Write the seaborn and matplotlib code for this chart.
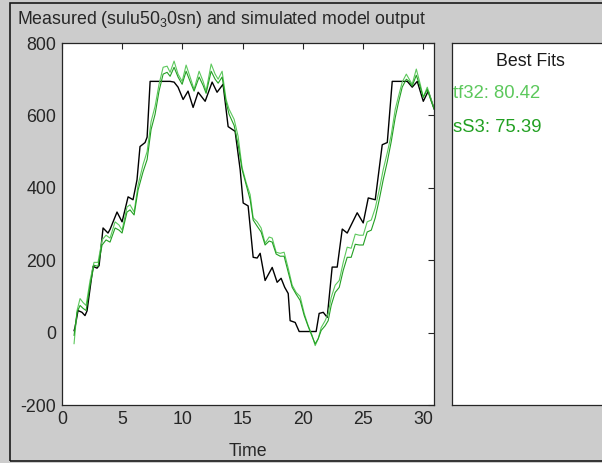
import numpy as np
import pandas as pd
import matplotlib
matplotlib.use("Agg")
import matplotlib.pyplot as plt
import seaborn as sns
from matplotlib.patches import Rectangle

# Measured output (staircase response)
meas_t = [1.00, 1.08, 1.33, 1.66, 1.91, 2.08, 2.58, 2.91, 3.08, 3.41, 3.82, 3.99,
          4.57, 4.99, 5.49, 5.90, 6.23, 6.48, 6.90, 7.07, 7.32, 8.98, 9.31, 9.64,
          10.06, 10.47, 10.89, 11.31, 11.89, 12.47, 12.88, 13.38, 13.80, 14.38,
          14.80, 15.05, 15.46, 15.88, 16.21, 16.46, 16.87, 17.46, 17.87, 18.20,
          18.50, 18.79, 18.95, 19.37, 19.70, 21.11, 21.36, 21.70, 22.03, 22.44,
          22.86, 23.28, 23.69, 24.52, 25.02, 25.44, 26.02, 26.60, 27.02, 27.43,
          28.68, 29.09, 29.51, 30.01, 30.42, 30.92]
meas_y = [5, 14, 61, 56, 47, 60, 183, 178, 185, 289, 275, 285,
          333, 306, 375, 367, 422, 514, 525, 540, 694, 694, 692, 678,
          644, 667, 622, 664, 639, 692, 664, 686, 569, 556,
          450, 358, 350, 208, 206, 219, 144, 180, 139, 150,
          125, 108, 33, 28, 3, 3, 53, 56, 42, 181,
          181, 286, 275, 331, 303, 372, 367, 519, 525, 694,
          694, 678, 694, 639, 667, 617]

# Simulated model outputs
model_t = [1.00, 1.25, 1.50, 1.75, 2.00, 2.33, 2.66, 2.99, 3.33, 3.66, 3.99, 4.41,
           4.74, 4.99, 5.40, 5.65, 5.99, 6.32, 6.73, 7.07, 7.40, 7.73, 8.06, 8.40,
           8.73, 8.98, 9.31, 9.64, 9.98, 10.31, 10.64, 10.97, 11.39, 11.72, 11.97,
           12.39, 12.72, 12.97, 13.30, 13.63, 13.88, 14.30, 14.63, 14.96, 15.30,
           15.63, 15.88, 16.21, 16.54, 16.87, 17.21, 17.46, 17.79, 18.12, 18.45,
           18.79, 19.12, 19.45, 19.78, 20.12, 20.45, 20.78, 21.03, 21.28, 21.53,
           21.86, 22.11, 22.36, 22.69, 23.03, 23.36, 23.69, 24.02, 24.36, 24.69,
           25.02, 25.35, 25.69, 26.02, 26.35, 26.68, 27.02, 27.35, 27.68, 27.93,
           28.26, 28.60, 28.84, 29.09, 29.43, 29.76, 30.01, 30.34, 30.67, 30.92]
tf32_y = [-31, 61, 94, 83, 75, 144, 194, 194, 256, 269, 261, 306,
          297, 283, 347, 353, 333, 408, 464, 500, 583, 625, 686, 733,
          736, 719, 750, 714, 694, 739, 706, 672, 722, 694, 667,
          742, 714, 700, 722, 644, 617, 589, 542, 456, 414,
          381, 317, 306, 289, 247, 264, 261, 222, 219, 222,
          178, 131, 111, 100, 53, 19, -8, -36, -17, 14,
          33, 53, 97, 131, 144, 194, 236, 233, 272, 269,
          269, 306, 311, 344, 394, 450, 497, 547, 617, 650,
          692, 714, 700, 686, 728, 686, 650, 678, 644, 617]
ss3_y = [-8, 56, 75, 67, 61, 131, 186, 183, 242, 256, 250, 289,
         283, 275, 333, 339, 325, 394, 444, 478, 561, 603, 667, 714,
         719, 708, 733, 706, 686, 722, 694, 667, 706, 683, 661,
         722, 700, 689, 706, 636, 603, 572, 519, 450, 408,
         367, 311, 294, 278, 242, 253, 250, 217, 211, 211,
         167, 125, 106, 89, 47, 17, -11, -31, -17, 6,
         19, 33, 75, 111, 125, 172, 208, 208, 244, 242,
         242, 278, 283, 317, 367, 422, 472, 528, 594, 633,
         678, 700, 694, 681, 711, 678, 650, 672, 639, 617]

fit_names = ["tf32", "sS3"]
fit_values = [80.42, 75.39]
fit_colors = ["#5cc85c", "#22a022"]

x_ticks = [0, 5, 10, 15, 20, 25, 30]
y_ticks = [-200, 0, 200, 400, 600, 800]

sns.set_theme(style="white")
plt.rcParams["font.family"] = ["Liberation Sans", "DejaVu Sans"]
plt.rcParams["mathtext.fontset"] = "custom"
plt.rcParams["mathtext.rm"] = "Liberation Sans"
plt.rcParams["mathtext.it"] = "Liberation Sans"
plt.rcParams["axes.unicode_minus"] = False

ink = "#262626"
fs = 12.8
fig = plt.figure(figsize=(6.02, 4.63), dpi=100, facecolor="#cccccc")

# outer panel frame
fig.patches.append(Rectangle((10 / 602, 2 / 463), 1.0, 458 / 463,
                             transform=fig.transFigure, fill=False,
                             edgecolor="#1a1a1a", lw=1.2, zorder=0))

ax = fig.add_axes([62 / 602, 1 - 405 / 463, 372 / 602, 362 / 463])
ax.set_facecolor("white")

meas_df = pd.DataFrame({"Time": meas_t, "y": meas_y})
model_df = pd.DataFrame({"Time": model_t, "tf32": tf32_y, "sS3": ss3_y})

sns.lineplot(data=model_df, x="Time", y="tf32", ax=ax, color=fit_colors[0],
             lw=0.8, estimator=None, sort=False)
sns.lineplot(data=model_df, x="Time", y="sS3", ax=ax, color=fit_colors[1],
             lw=0.8, estimator=None, sort=False)
sns.lineplot(data=meas_df, x="Time", y="y", ax=ax, color="black",
             lw=1.0, estimator=None, sort=False, zorder=1)

ax.set_xlim(0, 30.9)
ax.set_ylim(-200, 800)
ax.set_xticks(x_ticks)
ax.set_yticks(y_ticks)
ax.tick_params(direction="in", length=4, width=0.8, top=True, right=True,
               labelsize=fs, colors=ink, pad=4)
for s in ax.spines.values():
    s.set_color(ink)
    s.set_linewidth(0.9)
ax.set_xlabel("Time", fontsize=fs, color=ink, labelpad=11)
ax.set_ylabel("")

fig.text(17 / 602, 1 - 20 / 463,
         r"Measured (sulu50$_{3}$0sn) and simulated model output",
         fontsize=fs, color=ink, ha="left", va="center")

# fit legend panel
lax = fig.add_axes([452 / 602, 1 - 405 / 463, 0.30, 362 / 463])
lax.set_facecolor("white")
lax.set_xticks([])
lax.set_yticks([])
for s in lax.spines.values():
    s.set_color(ink)
    s.set_linewidth(0.9)
lax.text(78 / 180.6, (405 - 62) / 362, "Best Fits", fontsize=fs,
         color="#1a1a1a", ha="center", va="center", transform=lax.transAxes)
for i, (n, v, c) in enumerate(zip(fit_names, fit_values, fit_colors)):
    lax.text(1 / 180.6, (405 - 93 - 35 * i) / 362, f"{n}: {v:.2f}",
             fontsize=fs + 0.5, color=c, ha="left", va="center",
             transform=lax.transAxes)

fig.savefig("out.png", dpi=100, facecolor=fig.get_facecolor())
